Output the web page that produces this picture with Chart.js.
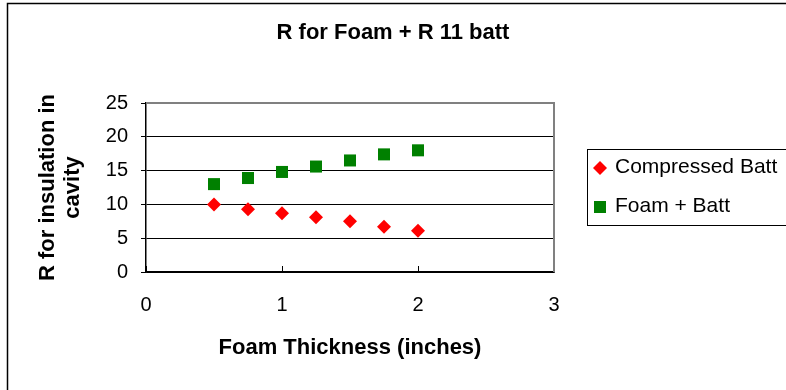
<!DOCTYPE html>
<html>
<head>
<meta charset="utf-8">
<title>R for Foam + R 11 batt</title>
<script src="https://cdn.jsdelivr.net/npm/chart.js@4.4.1/dist/chart.umd.min.js"></script>
<style>
  html, body { margin: 0; padding: 0; background: #fff; }
  #chart { display: block; }
</style>
</head>
<body>
<canvas id="chart" width="786" height="390"></canvas>
<script>
const FONT = "'Liberation Sans', Arial, sans-serif";

// data
const thickness = [0.5, 0.75, 1, 1.25, 1.5, 1.75, 2];
const compressedBatt = [10, 9.3, 8.7, 8.1, 7.5, 6.7, 6.1];
const foamPlusBatt = [13, 13.9, 14.8, 15.6, 16.5, 17.4, 18];
const seriesNames = ["Compressed Batt", "Foam + Batt"];
const xTicks = [0, 1, 2, 3];
const yTicks = [0, 5, 10, 15, 20, 25];

const toPoints = (xs, ys) => xs.map((x, i) => ({ x: x, y: ys[i] }));

// outer frame + grey plot border
const framePlugin = {
  id: "frame",
  beforeDraw(chart){
    const ctx = chart.ctx;
    ctx.save();
    ctx.fillStyle = "#fff";
    ctx.fillRect(0, 0, chart.width, chart.height);
    ctx.strokeStyle = "#000";
    ctx.lineWidth = 1.5;
    ctx.strokeRect(7.5, 3.5, 900, 500);
    ctx.restore();
  },
  afterDatasetsDraw(chart){
    const ctx = chart.ctx;
    const a = chart.chartArea;
    ctx.save();
    ctx.strokeStyle = "#808080";
    ctx.lineWidth = 2;
    ctx.beginPath();
    ctx.moveTo(a.left, a.top);
    ctx.lineTo(a.right, a.top);
    ctx.lineTo(a.right, a.bottom);
    ctx.stroke();
    ctx.restore();
  }
};

// legend box drawn from the datasets
const legendPlugin = {
  id: "boxLegend",
  afterDraw(chart){
    const ctx = chart.ctx;
    ctx.save();
    ctx.strokeStyle = "#000";
    ctx.lineWidth = 1;
    ctx.strokeRect(587.5, 149.5, 240, 76);
    ctx.font = "21px " + FONT;
    ctx.textBaseline = "middle";
    ctx.textAlign = "left";
    const rows = [168, 207];
    chart.data.datasets.forEach((ds, i) => {
      const y = rows[i];
      ctx.fillStyle = ds.backgroundColor;
      Chart.helpers.drawPoint(ctx, {
        pointStyle: ds.pointStyle, rotation: 0, borderWidth: 0,
        radius: ds.pointStyle === "rect" ? 8.5 : 7
      }, 600, y);
      ctx.fillStyle = "#000";
      ctx.fillText(ds.label, 615, y - 1);
    });
    ctx.restore();
  }
};

new Chart(document.getElementById("chart"), {
  type: "scatter",
  data: {
    datasets: [
      {
        label: seriesNames[0],
        data: toPoints(thickness, compressedBatt),
        pointStyle: "rectRot",
        backgroundColor: "#ff0000",
        borderColor: "#ff0000",
        borderWidth: 0,
        pointRadius: 7,
        pointHoverRadius: 7
      },
      {
        label: seriesNames[1],
        data: toPoints(thickness, foamPlusBatt),
        pointStyle: "rect",
        backgroundColor: "#008000",
        borderColor: "#008000",
        borderWidth: 0,
        pointRadius: 8.5,
        pointHoverRadius: 8.5
      }
    ]
  },
  options: {
    responsive: false,
    animation: false,
    events: [],
    layout: { padding: 0 },
    plugins: {
      legend: { display: false },
      tooltip: { enabled: false },
      title: {
        display: true,
        text: "R for Foam + R 11 batt",
        color: "#000",
        font: { family: FONT, size: 22, weight: "bold", lineHeight: 1.2 },
        padding: { top: 20, bottom: 56.6 }
      }
    },
    scales: {
      x: {
        type: "linear",
        min: 0, max: 3,
        afterFit(scale){ scale.height = 118; },
        afterBuildTicks(scale){ scale.ticks = xTicks.map(v => ({ value: v })); },
        ticks: {
          color: "#000",
          padding: 27,
          font: { family: FONT, size: 20, lineHeight: 1.2 }
        },
        grid: {
          drawOnChartArea: false,
          drawTicks: true,
          tickLength: -6,
          tickColor: "#000",
          color: "#000"
        },
        border: { color: "#000", width: 1.5 },
        title: {
          display: true,
          text: "Foam Thickness (inches)",
          color: "#000",
          font: { family: FONT, size: 22, weight: "bold", lineHeight: 1.2 },
          padding: { top: 0, bottom: 29 }
        }
      },
      y: {
        type: "linear",
        min: 0, max: 25,
        afterFit(scale){ scale.width = 146; },
        afterBuildTicks(scale){ scale.ticks = yTicks.map(v => ({ value: v })); },
        ticks: {
          color: "#000",
          padding: 13,
          font: { family: FONT, size: 20, lineHeight: 1.2 }
        },
        grid: {
          drawTicks: true,
          tickLength: 5,
          tickColor: "#000",
          lineWidth: 1,
          color: c => (c.tick && c.tick.value === 25) ? "rgba(0,0,0,0)" : "#000"
        },
        border: { color: "#000", width: 1.5 },
        title: {
          display: true,
          text: ["R for insulation in", "cavity"],
          color: "#000",
          font: { family: FONT, size: 22, weight: "bold", lineHeight: 1.15 },
          padding: { top: 35, bottom: 0 }
        }
      },
      // empty right-hand axis that reserves the room used by the legend
      yRight: {
        type: "linear",
        position: "right",
        min: 0, max: 25,
        afterFit(scale){ scale.width = 232; },
        ticks: { display: false },
        grid: { display: false, drawTicks: false },
        border: { display: false }
      }
    }
  },
  plugins: [framePlugin, legendPlugin]
});
</script>
</body>
</html>
